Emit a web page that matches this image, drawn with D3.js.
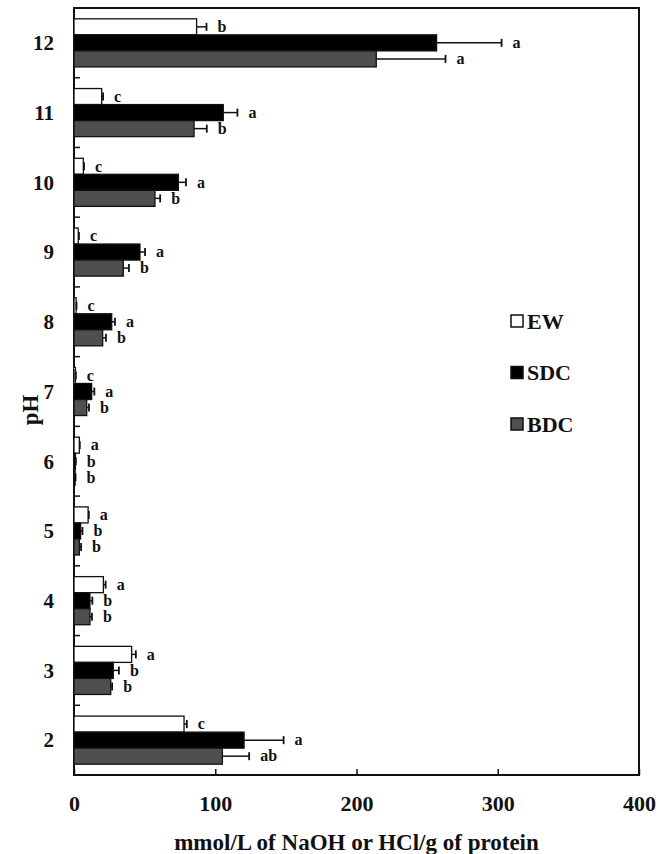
<!DOCTYPE html>
<html><head><meta charset="utf-8">
<script src="https://cdn.jsdelivr.net/npm/d3@7"></script>
<style>
html,body{margin:0;padding:0;background:#fff;}
svg text{font-family:"Liberation Serif","Times New Roman",serif;font-weight:bold;fill:#111;}
</style></head>
<body><svg id="chart" width="665" height="854"></svg>
<script>
const categories = ["12","11","10","9","8","7","6","5","4","3","2"];
const seriesNames = ["EW","SDC","BDC"];
const ewValues  = [86.8, 19.6, 6.6, 3.0, 1.5, 1.0, 3.8, 10.0, 20.8, 40.8, 77.9];
const ewErrors  = [7, 1, 0.5, 0.5, 0.3, 0.3, 0.3, 0.5, 1.6, 3, 2];
const sdcValues = [256.7, 105.7, 73.9, 46.7, 26.7, 12.5, 1.0, 4.7, 11.3, 27.8, 120.4];
const sdcErrors = [46, 10, 5.4, 3.6, 2.3, 1.9, 0.3, 1.3, 1.7, 4, 28];
const bdcValues = [214, 85, 57.3, 34.9, 20.3, 9.0, 0.8, 3.8, 11.3, 26, 105];
const bdcErrors = [49, 9, 3.7, 4, 2.3, 1.6, 0.3, 1.2, 1.4, 1, 19];
const ewLetters  = ["b","c","c","c","c","c","a","a","a","a","c"];
const sdcLetters = ["a","a","a","a","a","a","b","b","b","b","a"];
const bdcLetters = ["a","b","b","b","b","b","b","b","b","b","ab"];
const xTicks = [0,100,200,300,400];
const xTitle = "mmol/L of NaOH or HCl/g of protein";
const yTitle = "pH";

const fills = {EW:"#ffffff", SDC:"#000000", BDC:"#4f4f4f"};
const series = [
  {name:"EW", values:ewValues, errors:ewErrors, letters:ewLetters},
  {name:"SDC", values:sdcValues, errors:sdcErrors, letters:sdcLetters},
  {name:"BDC", values:bdcValues, errors:bdcErrors, letters:bdcLetters}
];

const L = 74, R = 639, T = 8, B = 775;
const svg = d3.select("#chart");
const x = d3.scaleLinear().domain([0,400]).range([L,R]);
const y = d3.scaleBand().domain(categories).range([T,B]).paddingInner(0.31).paddingOuter(0.155);
const yi = d3.scaleBand().domain(seriesNames).range([0,y.bandwidth()]);

// frame
svg.append("rect").attr("x",L).attr("y",T).attr("width",R-L).attr("height",B-T)
  .attr("fill","none").attr("stroke","#111").attr("stroke-width",2);

// bars
series.forEach(s=>{
  const g = svg.append("g");
  categories.forEach((c,i)=>{
    const y0 = y(c)+yi(s.name), h = yi.bandwidth();
    const v = s.values[i], e = s.errors[i];
    g.append("rect").attr("x",x(0)).attr("y",y0).attr("width",x(v)-x(0)).attr("height",h)
      .attr("fill",fills[s.name]).attr("stroke","#111").attr("stroke-width",1.3);
    const cy = y0 + h/2;
    g.append("line").attr("x1",x(v)).attr("x2",x(v+e)).attr("y1",cy).attr("y2",cy)
      .attr("stroke","#111").attr("stroke-width",1.5);
    g.append("line").attr("x1",x(v+e)).attr("x2",x(v+e)).attr("y1",cy-4).attr("y2",cy+4)
      .attr("stroke","#111").attr("stroke-width",1.8);
    g.append("text").attr("x",x(v+e)+11).attr("y",cy).attr("dy","0.33em")
      .attr("font-size",16).text(s.letters[i]);
  });
});

// y ticks at band boundaries (inward)
const step = y.step();
for(let k=1;k<categories.length;k++){
  const yy = y(categories[k]) - step*y.paddingInner()/2;
  svg.append("line").attr("x1",L).attr("x2",L+6).attr("y1",yy).attr("y2",yy)
    .attr("stroke","#111").attr("stroke-width",1.5);
}
// y labels
categories.forEach(c=>{
  svg.append("text").attr("x",54).attr("y",y(c)+y.bandwidth()/2).attr("dy","0.35em")
    .attr("text-anchor","end").attr("font-size",21).text(c);
});
// x axis ticks inward
const xAxis = d3.axisBottom(x).tickValues(xTicks).tickSize(-6).tickPadding(20).tickFormat(d3.format("d"));
const xg = svg.append("g").attr("transform",`translate(0,${B})`).call(xAxis);
xg.select(".domain").remove();
xg.selectAll(".tick line").attr("stroke","#111").attr("stroke-width",1.5);
xg.selectAll(".tick text").attr("font-size",22).attr("fill","#111")
  .style("font-family","Liberation Serif, serif").style("font-weight","bold");

// titles
svg.append("text").attr("x",(L+R)/2).attr("y",850).attr("text-anchor","middle")
  .attr("font-size",23).text(xTitle);
svg.append("text").attr("transform","translate(38,410) rotate(-90)").attr("text-anchor","middle")
  .attr("font-size",23).text(yTitle);

// legend
seriesNames.forEach((n,i)=>{
  const ly = 321 + i*51.5;
  svg.append("rect").attr("x",511).attr("y",ly-6).attr("width",12).attr("height",12)
    .attr("fill",fills[n]).attr("stroke","#111").attr("stroke-width",1.5);
  svg.append("text").attr("x",527).attr("y",ly).attr("dy","0.35em").attr("font-size",22).text(n);
});
</script></body></html>
